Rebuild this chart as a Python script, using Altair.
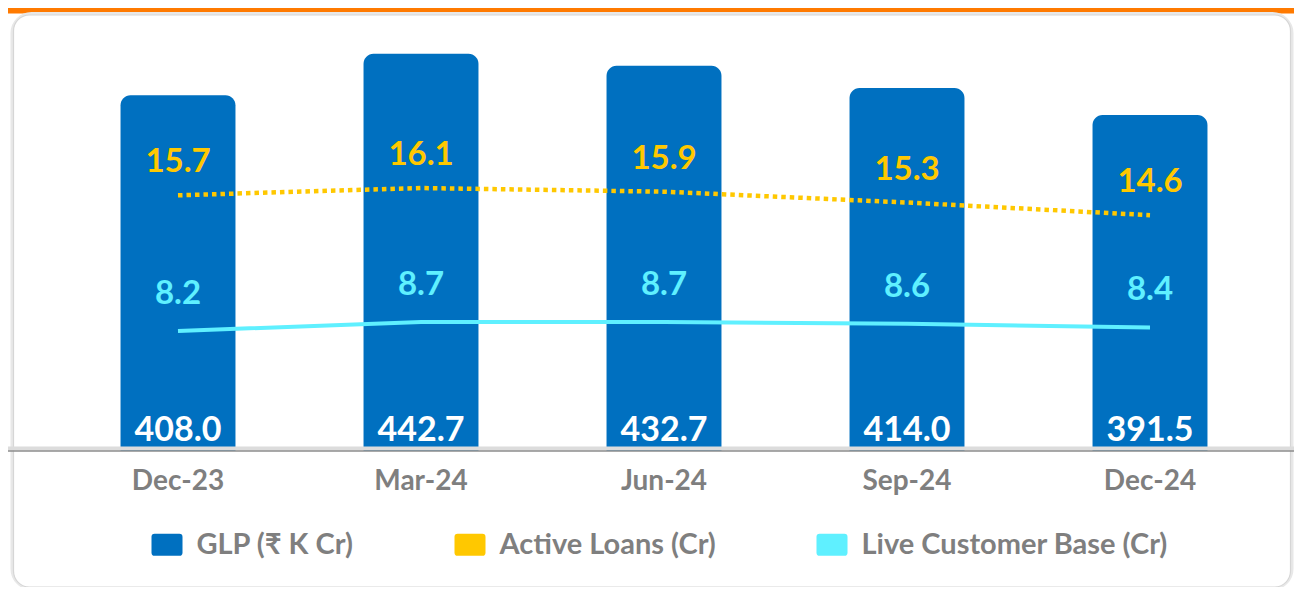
import altair as alt
import pandas as pd

periods = ["Dec-23", "Mar-24", "Jun-24", "Sep-24", "Dec-24"]
glp = [408.0, 442.7, 432.7, 414.0, 391.5]
active_loans = [15.7, 16.1, 15.9, 15.3, 14.6]
live_customers = [8.2, 8.7, 8.7, 8.6, 8.4]
series_names = ["GLP (₹ K Cr)", "Active Loans (Cr)", "Live Customer Base (Cr)"]
series_colors = ["#0070C0", "#FFC800", "#5FF0FF"]

df = pd.DataFrame({
    "period": periods,
    "glp": glp,
    "active": active_loans,
    "live": live_customers,
    "series": [series_names[0]] * len(periods),
})

W, H = 1215, 411
FONT = "Lato"
GRAY = "#7F7F7F"
GLP_MIN, GLP_MAX = 110.6, 454.2

x_enc = alt.X("period:N", sort=periods, title=None,
              scale=alt.Scale(paddingInner=0.527, paddingOuter=0.2635),
              axis=alt.Axis(labelFontSize=28, labelFont=FONT, labelFontWeight="bold",
                            labelColor=GRAY, ticks=False, domain=False, labelPadding=16,
                            labelAngle=0, grid=False, zindex=2))

y_left = alt.Scale(domain=[GLP_MIN, GLP_MAX], nice=False, zero=False)
y_right = alt.Scale(domain=[1.57, 24.28], nice=False, zero=False)

one = alt.Data(values=[{}])

orange = alt.Chart(one).mark_rect(color="#FF7A00").encode(
    x=alt.value(-48.5), x2=alt.value(W + 22.5), y=alt.value(-32), y2=alt.value(-26.5))

card_shadow = alt.Chart(one).mark_rect(
    fill="#ffffff", stroke="#e8e8e8", strokeWidth=6, cornerRadius=18).encode(
    x=alt.value(-43), x2=alt.value(W + 19), y=alt.value(-25), y2=alt.value(H + 136))
card = alt.Chart(one).mark_rect(
    fill="#ffffff", stroke="#d6d6d6", strokeWidth=1.2, cornerRadius=16).encode(
    x=alt.value(-43), x2=alt.value(W + 19), y=alt.value(-25), y2=alt.value(H + 136))

base = alt.Chart(df)

bars = base.mark_bar(cornerRadiusTopLeft=10, cornerRadiusTopRight=10).encode(
    x=x_enc,
    y=alt.Y("glp:Q", scale=y_left, axis=None),
    y2=alt.datum(GLP_MIN),
    color=alt.Color("series:N", scale=alt.Scale(domain=series_names, range=series_colors),
                    legend=alt.Legend(
                        orient="none", legendX=95, legendY=489, direction="horizontal",
                        title=None, zindex=2,
                        symbolType="M-0.8,-0.71H0.8Q1,-0.71 1,-0.51V0.51Q1,0.71 0.8,0.71H-0.8Q-1,0.71 -1,0.51V-0.51Q-1,-0.71 -0.8,-0.71Z",
                        symbolSize=961, symbolStrokeWidth=0, symbolOpacity=1,
                        labelFontSize=29, labelFont=FONT, labelFontWeight="bold",
                        labelColor=GRAY, labelOffset=14, columnPadding=100,
                        labelLimit=400, padding=0)),
)

baseline_shadow = alt.Chart(one).mark_rule(color="#dcdcdc", strokeWidth=4).encode(
    x=alt.value(-48.5), x2=alt.value(W + 22.5), y=alt.value(H - 2.5))
baseline = alt.Chart(one).mark_rule(color="#8c8c8c", strokeWidth=1.5).encode(
    x=alt.value(-48.5), x2=alt.value(W + 22.5), y=alt.value(H))

bar_labels = base.mark_text(fontSize=34, font=FONT, fontWeight="bold", color="white",
                            baseline="middle", dy=-20).encode(
    x=x_enc, y=alt.value(H), text=alt.Text("glp:Q", format=".1f"))

active_line = base.mark_line(color="#FFC800", strokeWidth=4.5, strokeDash=[4.5, 4]).encode(
    x=x_enc, y=alt.Y("active:Q", scale=y_right, axis=None))
live_line = base.mark_line(color="#5FF0FF", strokeWidth=4).encode(
    x=x_enc, y=alt.Y("live:Q", scale=y_right, axis=None))

active_labels = base.mark_text(fontSize=33, font=FONT, fontWeight="bold", color="#FFC800",
                               baseline="middle", dy=-33).encode(
    x=x_enc, y=alt.Y("active:Q", scale=y_right, axis=None),
    text=alt.Text("active:Q", format=".1f"))
live_labels = base.mark_text(fontSize=33, font=FONT, fontWeight="bold", color="#5FF0FF",
                             baseline="middle", dy=-37).encode(
    x=x_enc, y=alt.Y("live:Q", scale=y_right, axis=None),
    text=alt.Text("live:Q", format=".1f"))

chart = alt.layer(
    orange, card_shadow, card, bars, baseline_shadow, baseline, bar_labels,
    active_line, live_line, active_labels, live_labels
).resolve_scale(y="independent").properties(
    width=W, height=H,
    autosize=alt.AutoSizeParams(type="none"),
    padding={"left": 48.5, "top": 32, "right": 22.5, "bottom": 136},
    background="white",
).configure_view(stroke=None)

chart.save("out.html", embed_options={"renderer": "svg", "actions": False})
